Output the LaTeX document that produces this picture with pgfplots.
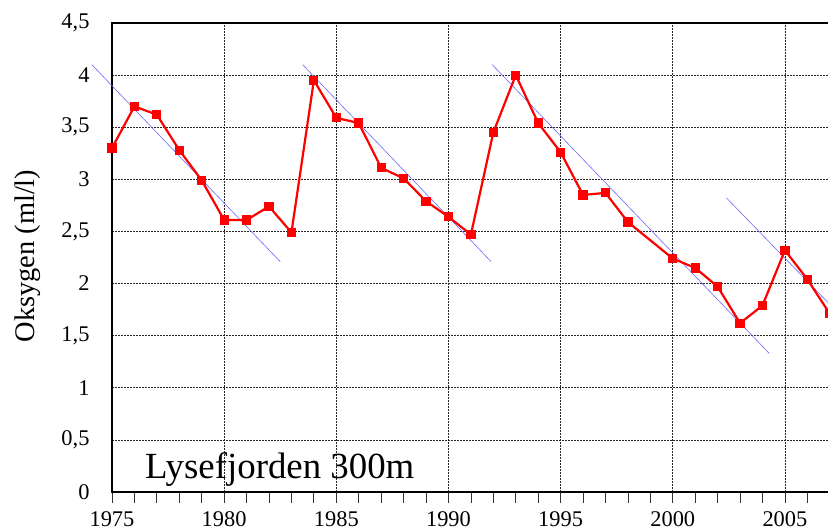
\documentclass[border=0pt]{standalone}
\usepackage{fontspec}
\setmainfont{Liberation Serif}
\usepackage{pgfplots}
\pgfplotsset{compat=1.18}
\definecolor{Trend}{RGB}{105,105,255}
\definecolor{Oxy}{RGB}{255,0,0}

\begin{document}
\begin{tikzpicture}
\useasboundingbox (0,0) rectangle (828bp,532bp);
\begin{axis}[
  at={(112bp,40bp)}, anchor=south west,
  scale only axis, width=717.8bp, height=469bp,
  xmin=1975, xmax=2007, ymin=0, ymax=4.5,
  axis line style={line width=1.4bp, black},
  xtick={1975,1980,...,2005},
  minor xtick={1976,1977,1978,1979,1981,1982,1983,1984,1986,1987,1988,1989,1991,1992,1993,1994,1996,1997,1998,1999,2001,2002,2003,2004,2006},
  xtick pos=left, tick align=outside,
  ytick pos=right, yticklabel pos=left,
  major tick length=11bp, minor tick length=11bp,
  every tick/.append style={draw=black!80, line width=0.8bp},
  ytick={0,0.5,...,4.5},
  xmajorgrids, ymajorgrids,
  grid style={black!85, line width=0.6bp, dash pattern=on 1.5bp off 1.5bp},
  /pgf/number format/assume math mode=true,
  /pgf/number format/use comma,
  /pgf/number format/1000 sep={},
  ticklabel style={font=\fontsize{22.5}{26}\selectfont},
  yticklabel style={xshift=-8bp},
  xticklabel style={yshift=-5.5bp},
  ylabel={Oksygen (ml/l)},
  ylabel style={font=\fontsize{28.5}{32}\selectfont, at={(axis description cs:-0.1175,0.503)}, anchor=center},
  clip=false,
]
% trend lines
\addplot[Trend, line width=0.6bp] coordinates {(1974.1,4.10) (1982.5,2.21)};
\addplot[Trend, line width=0.6bp] coordinates {(1983.5,4.10) (1991.9,2.21)};
\addplot[Trend, line width=0.6bp] coordinates {(1991.95,4.10) (2004.3,1.33)};
\addplot[Trend, line width=0.6bp] coordinates {(2002.4,2.82) (2007.0,1.80)};
% oxygen at 300 m
\addplot[Oxy, line width=2.2bp, mark=square*, mark size=3.5bp, mark options={solid, fill=Oxy}] coordinates {
  (1975,3.30) (1976,3.70) (1977,3.62) (1978,3.28) (1979,2.99)
  (1980,2.61) (1981,2.61) (1982,2.74) (1983,2.49) (1984,3.95)
  (1985,3.59) (1986,3.54) (1987,3.11) (1988,3.01) (1989,2.79)
  (1990,2.64) (1991,2.47) (1992,3.45) (1993,4.00) (1994,3.54)
  (1995,3.26) (1996,2.85) (1997,2.87) (1998,2.59) (2000,2.24)
  (2001,2.15) (2002,1.97) (2003,1.62) (2004,1.79) (2005,2.32)
  (2006,2.04) (2007,1.71)};
\node[anchor=base west, inner sep=0pt, font=\fontsize{37}{40}\selectfont] at (axis cs:1976.47,0.125) {Lysefjorden 300m};
\end{axis}
\end{tikzpicture}
\end{document}
